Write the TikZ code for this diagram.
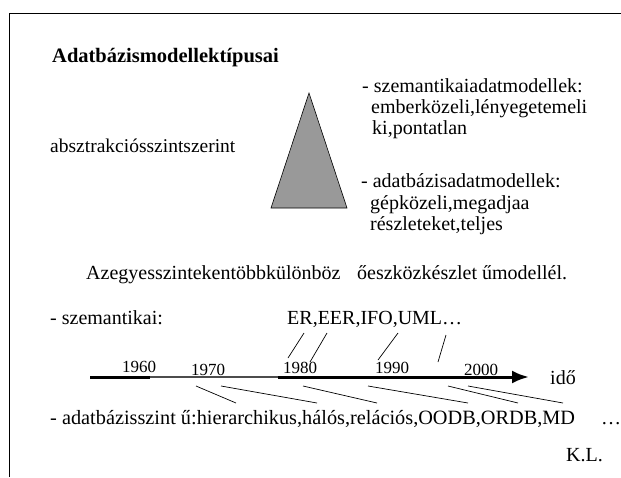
\documentclass[tikz,border=0pt]{standalone}
\usepackage{fontspec}
\setmainfont{Liberation Serif}
\usetikzlibrary{arrows.meta}
\begin{document}
\begin{tikzpicture}[x=1pt,y=-1pt,
  txt/.style={anchor=base west,inner sep=0pt,font=\fontsize{20}{22}\selectfont},
  yr/.style={anchor=base west,inner sep=0pt,font=\fontsize{17}{19}\selectfont},
  tick/.style={line width=0.7pt}]
\useasboundingbox (0,0) rectangle (621,477);
% frame
\draw[line width=1pt] (9,477) -- (9,13) -- (621,13);
% heading and abstraction-level part
\node[txt,font=\fontsize{20.5}{22}\selectfont\bfseries] (title) at (52,62) {Adatbázismodellektípusai};
\node[txt,font=\fontsize{19.5}{22}\selectfont] (abs) at (50,152) {absztrakciósszintszerint};
\draw[fill=black!40,line width=0.6pt] (309,93) coordinate (apex) -- (347,208) coordinate (br) -- (271,208) coordinate (bl) -- cycle;
\node[txt] (s1) at (362,92) {- szemantikaiadatmodellek:};
\node[txt] (s2) at (371,113) {emberközeli,lényegetemeli};
\node[txt] (s3) at (372,134) {ki,pontatlan};
\node[txt] (d1) at (361,187) {- adatbázisadatmodellek:};
\node[txt] (d2) at (370,209) {gépközeli,megadjaa};
\node[txt] (d3) at (370,230) {részleteket,teljes};
\node[txt] (az1) at (86,279) {Azegyesszintekentöbbkülönböz};
\node[txt] (az2) at (357,279) {őeszközkészlet űmodellél.};
% semantic models
\node[txt] (sem) at (50,324) {- szemantikai:};
\node[txt] (semlist) at (287,324) {ER,EER,IFO,UML…};
% time axis
\coordinate (t0) at (90,377);
\coordinate (t1) at (150,377);
\coordinate (t2) at (278,377);
\coordinate (tend) at (529,377);
\draw[line width=3pt] (t0) -- (t1);
\draw[line width=1.6pt,black!70] (t1) -- (t2);
\draw[line width=3pt,-{Latex[length=17pt,width=13pt]}] (t2) -- (tend);
\node[yr] (y60) at (122,372) {1960};
\node[yr] (y70) at (191,375) {1970};
\node[yr] (y80) at (283,373) {1980};
\node[yr] (y90) at (375,373) {1990};
\node[yr] (y00) at (464,375) {2000};
\node[txt] (ido) at (550,384) {idő};
% links from semantic models to the axis
\coordinate (a1) at (304,333); \coordinate (b1) at (288,358);
\coordinate (a2) at (327,333); \coordinate (b2) at (310,362);
\coordinate (a3) at (398,333); \coordinate (b3) at (378,360);
\coordinate (a4) at (446,335); \coordinate (b4) at (438,362);
\foreach \i in {1,...,4} \draw[tick] (a\i) -- (b\i);
% links from the axis to database models
\coordinate (c1) at (196,386); \coordinate (e1) at (236,403);
\coordinate (c2) at (221,386); \coordinate (e2) at (317,403);
\coordinate (c3) at (303,386); \coordinate (e3) at (377,403);
\coordinate (c4) at (368,386); \coordinate (e4) at (468,403);
\coordinate (c5) at (448,386); \coordinate (e5) at (518,403);
\coordinate (c6) at (468,386); \coordinate (e6) at (563,403);
\foreach \i in {1,...,6} \draw[tick] (c\i) -- (e\i);
\node[txt,font=\fontsize{20.3}{22}\selectfont] (db) at (50,424) {- adatbázisszint ű:hierarchikus,hálós,relációs,OODB,ORDB,MD};
\node[txt] (dots) at (601,424) {…};
\node[txt] (kl) at (566,461) {K.L.};
\end{tikzpicture}
\end{document}
